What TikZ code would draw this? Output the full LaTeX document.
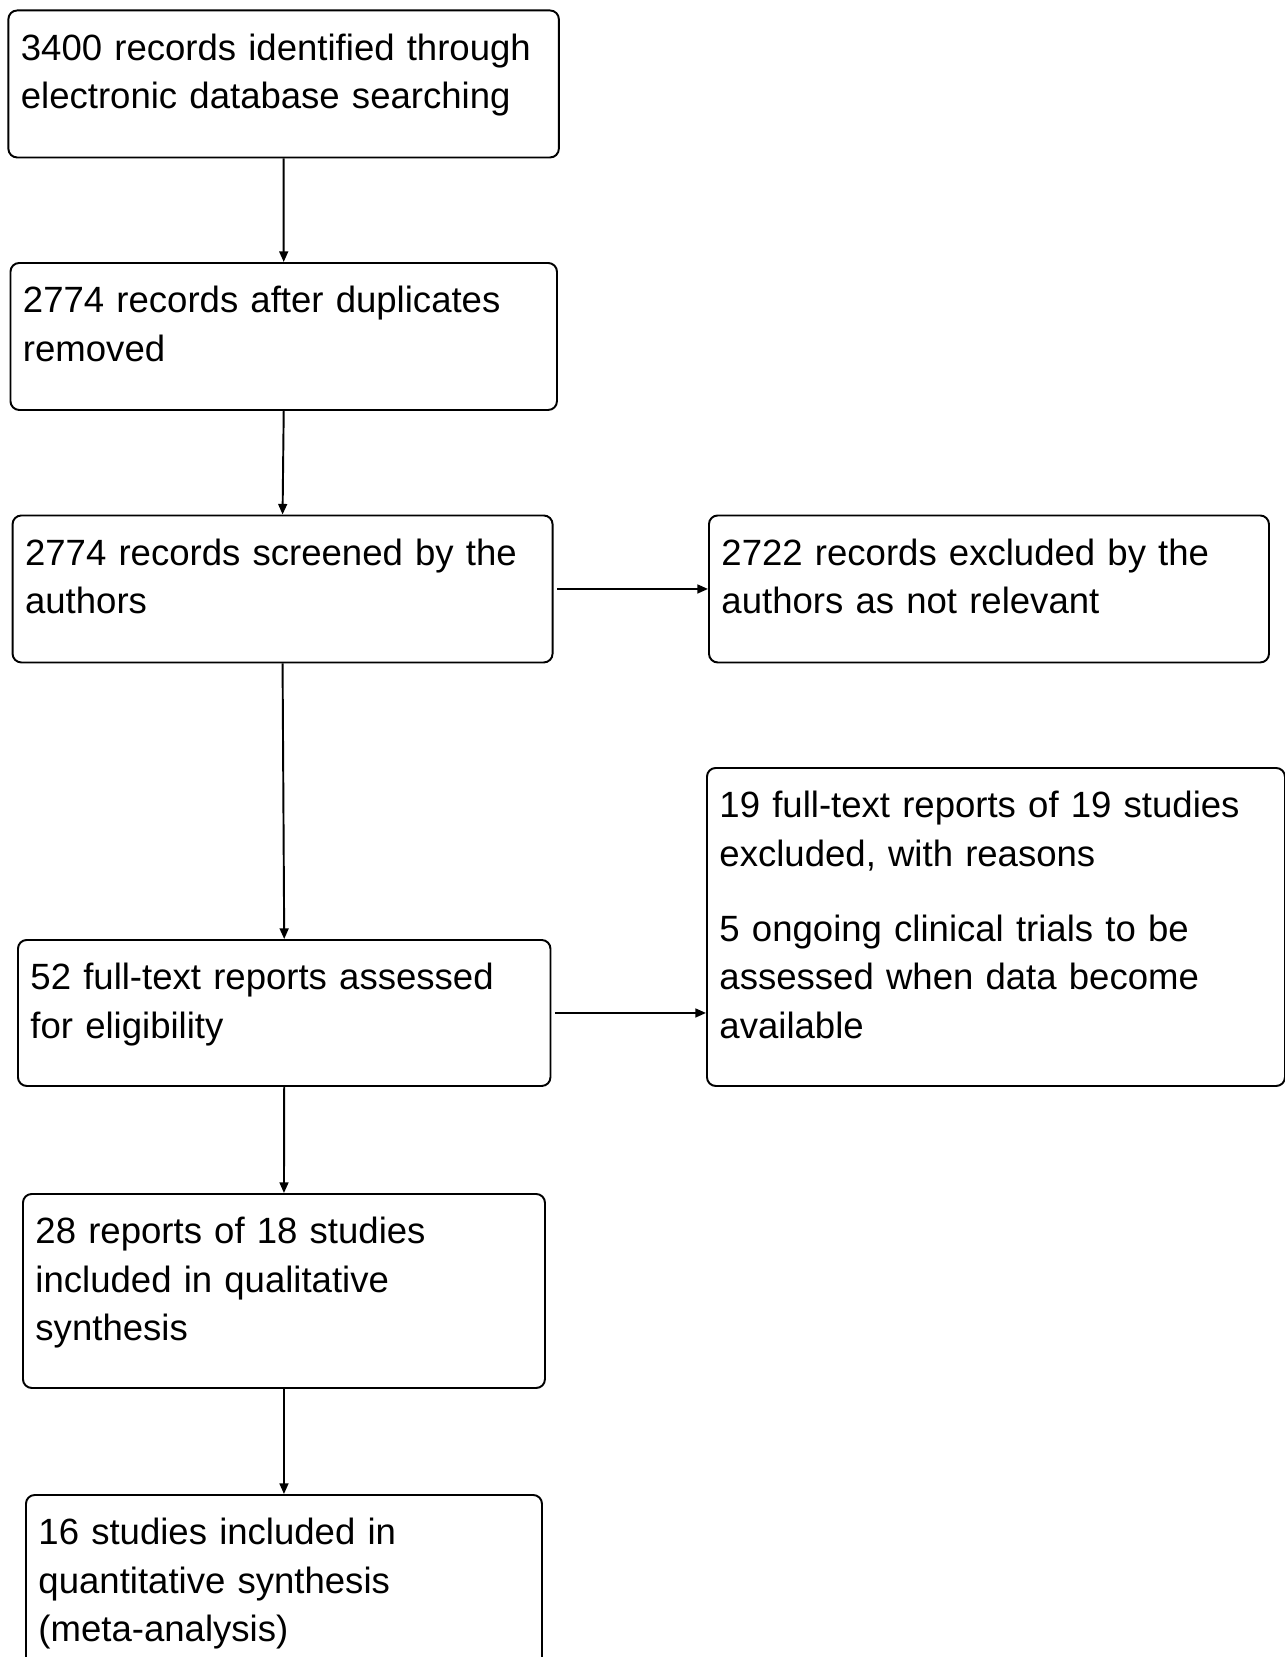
\documentclass[tikz,border=0pt]{standalone}
\usepackage{fontspec}
\setmainfont{Liberation Sans}
\usetikzlibrary{arrows.meta}
\tikzset{
  flowbox/.style={draw, line width=1.1pt, rounded corners=5pt, anchor=north west, inner xsep=0.25cm, inner ysep=0pt, text height=1.0cm, align=left, font=\fontsize{20.8}{27.6}\selectfont},
  flowarrow/.style={line width=1.1pt, -{Triangle[length=6pt,width=5pt]}}
}
\begin{document}
\begin{tikzpicture}
\clip (0,0) rectangle (25.7,-33.14);
\node[flowbox, text width=10.51cm, text depth=1.94cm] (ident) at (0.148,-0.19) {3400 records identified through\\electronic database searching};
\node[flowbox, text width=10.43cm, text depth=1.94cm] (dedup) at (0.19,-5.24) {2774 records after duplicates\\removed};
\node[flowbox, text width=10.30cm, text depth=1.94cm] (screen) at (0.232,-10.29) {2774 records screened by the\\authors};
\node[flowbox, text width=10.70cm, text depth=1.94cm] (excl) at (14.16,-10.29) {2722 records excluded by the\\authors as not relevant};
\node[flowbox, text width=11.06cm, text depth=5.36cm] (ftexcl) at (14.12,-15.34) {19 full-text reports of 19 studies\\excluded, with reasons\\[15pt]5 ongoing clinical trials to be\\assessed when data become\\available};
\node[flowbox, text width=10.15cm, text depth=1.92cm] (elig) at (0.34,-18.78) {52 full-text reports assessed\\for eligibility};
\node[flowbox, text width=9.94cm, text depth=2.88cm] (qual) at (0.44,-23.86) {28 reports of 18 studies\\included in qualitative\\synthesis};
\node[flowbox, text width=9.82cm, text depth=3.2cm] (quant) at (0.50,-29.88) {16 studies included in\\quantitative synthesis\\(meta-analysis)};
\draw[flowarrow] (ident.south) -- (dedup.north);
\draw[flowarrow] (dedup.south) -- (screen.north);
\draw[flowarrow] (screen.south) -- (elig.north);
\draw[flowarrow] (elig.south) -- (qual.north);
\draw[flowarrow] (qual.south) -- (quant.north);
\draw[flowarrow, shorten <=2pt] (screen.east) -- (excl.west);
\draw[flowarrow, shorten <=2pt] (elig.east) -- (elig.east -| ftexcl.west);
\end{tikzpicture}
\end{document}
